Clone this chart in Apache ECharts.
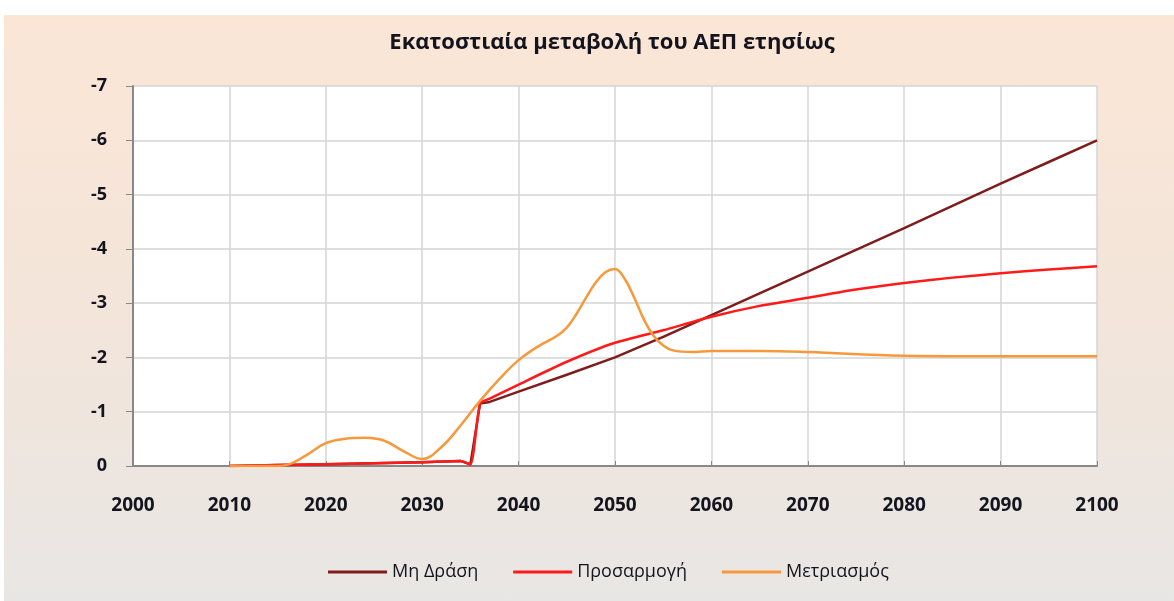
<!DOCTYPE html>
<html>
<head>
<meta charset="utf-8">
<script src="https://cdn.jsdelivr.net/npm/echarts@6/dist/echarts.min.js"></script>
<style>
  html, body { margin: 0; padding: 0; background: #fff; }
  #chart {
    position: absolute; left: 4px; top: 15px; width: 1170px; height: 586px;
    background: linear-gradient(to bottom, #fbe6d6 0%, #f3e5da 50%, #e8e6e4 100%);
  }
</style>
</head>
<body>
<div id="chart"></div>
<script>
// Μη Δράση / Προσαρμογή share the same years
const years = [2010, 2015, 2020, 2025, 2030, 2034, 2035, 2036, 2037, 2040, 2045, 2050, 2055, 2060, 2065, 2070, 2075, 2080, 2085, 2090, 2095, 2100]
const noAction = [0, -0.02, -0.03, -0.05, -0.07, -0.09, -0.03, -1.15, -1.18, -1.37, -1.68, -2.0, -2.38, -2.78, -3.18, -3.58, -3.98, -4.38, -4.79, -5.2, -5.6, -6.0]
const adaptation = [0, -0.02, -0.03, -0.05, -0.07, -0.09, -0.03, -1.15, -1.24, -1.5, -1.92, -2.27, -2.5, -2.75, -2.95, -3.1, -3.25, -3.37, -3.47, -3.55, -3.62, -3.68]

const mitYears = [2010, 2015, 2016, 2018, 2020, 2022, 2024, 2026, 2028, 2030, 2032, 2034, 2036, 2038, 2040, 2042, 2044, 2045, 2046, 2047, 2048, 2049, 2050, 2051, 2052, 2053, 2054, 2055, 2056, 2058, 2060, 2065, 2070, 2080, 2090, 2100]
const mitigation = [0, 0, -0.02, -0.2, -0.42, -0.5, -0.52, -0.47, -0.28, -0.13, -0.35, -0.75, -1.2, -1.6, -1.95, -2.2, -2.4, -2.55, -2.8, -3.1, -3.38, -3.57, -3.63, -3.45, -3.1, -2.7, -2.4, -2.22, -2.13, -2.1, -2.12, -2.12, -2.1, -2.03, -2.02, -2.02]

const names = ['Μη Δράση', 'Προσαρμογή', 'Μετριασμός']
const colors = ['#7f1d1d', '#ff1a1a', '#f7993a']

const pairs = (xs, ys) => xs.map((x, i) => [x, ys[i]])

const chart = echarts.init(document.getElementById('chart'))
const font = '"Open Sans", "Noto Sans", sans-serif'
const ink = '#14141f'

chart.setOption({
  animation: false,
  textStyle: { fontFamily: font },
  title: {
    text: 'Εκατοστιαία μεταβολή του ΑΕΠ ετησίως',
    left: 603,
    textAlign: 'center',
    top: 12,
    textStyle: { fontSize: 22, fontWeight: 'bold', color: ink, fontFamily: font }
  },
  color: colors,
  legend: {
    top: 543,
    left: 319,
    itemGap: 35,
    itemWidth: 59,
    itemHeight: 3,
    icon: 'rect',
    textStyle: { fontSize: 18, color: ink, fontFamily: font },
    data: names
  },
  grid: {
    left: 129,
    right: 77,
    top: 71,
    bottom: 135,
    show: true,
    backgroundColor: '#fff',
    borderWidth: 0
  },
  xAxis: {
    type: 'value',
    min: 2000,
    max: 2100,
    interval: 10,
    axisLine: { onZero: false, lineStyle: { color: '#888', width: 2 } },
    axisTick: { show: true, inside: true, length: 5, lineStyle: { color: '#888' } },
    axisLabel: { margin: 30, fontSize: 19, fontWeight: 'bold', color: ink, formatter: v => String(v) },
    splitLine: { show: true, lineStyle: { color: '#d4d4d4', width: 1.5 } }
  },
  yAxis: {
    type: 'value',
    min: -7,
    max: 0,
    interval: 1,
    inverse: true,
    axisLine: { show: true, lineStyle: { color: '#888', width: 2 } },
    axisTick: { show: true, length: 7, lineStyle: { color: '#888' } },
    axisLabel: { margin: 26, fontSize: 18, fontWeight: 'bold', color: ink },
    splitLine: { show: true, lineStyle: { color: '#d4d4d4', width: 1.5 } }
  },
  series: [
    {
      name: names[0], type: 'line', showSymbol: false,
      data: pairs(years, noAction),
      lineStyle: { width: 2.5, color: colors[0] }
    },
    {
      name: names[1], type: 'line', showSymbol: false, smooth: 0.2,
      data: pairs(years, adaptation),
      lineStyle: { width: 2.5, color: colors[1] }
    },
    {
      name: names[2], type: 'line', showSymbol: false, smooth: 0.4,
      data: pairs(mitYears, mitigation),
      lineStyle: { width: 2.5, color: colors[2] }
    }
  ]
})
</script>
</body>
</html>
